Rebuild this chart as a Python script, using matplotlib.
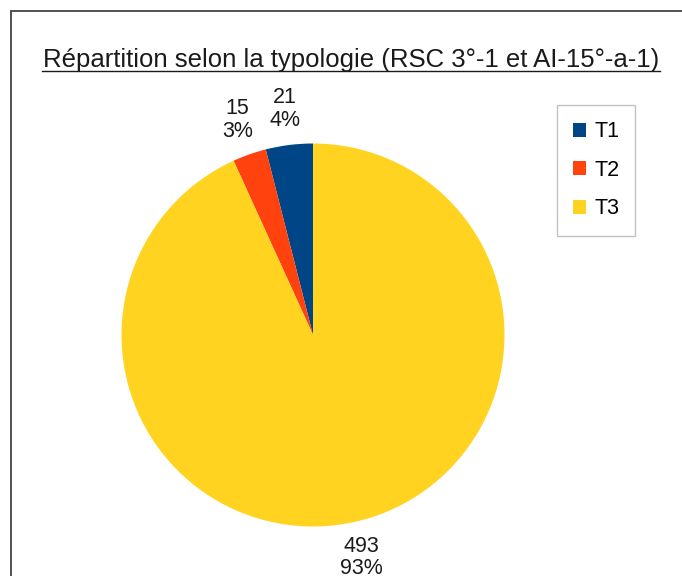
import numpy as np
import matplotlib
matplotlib.use("Agg")
import matplotlib.pyplot as plt
from matplotlib.patches import Rectangle

# Chart data
categories = ["T1", "T2", "T3"]
counts = [21, 15, 493]
percent_labels = ["4%", "3%", "93%"]
colors = ["#004586", "#ff420e", "#ffd320"]

TITLE = "Répartition selon la typologie (RSC 3°-1 et AI-15°-a-1)"

W, H = 682, 576
plt.rcParams["font.family"] = ["Liberation Sans", "DejaVu Sans"]

fig = plt.figure(figsize=(W / 100, H / 100), dpi=100)

# outer chart frame (cropped on the right and bottom)
fig.patches.append(Rectangle((10.5 / W, -0.1), 2.0, 1.1 - 10.5 / H,
                             transform=fig.transFigure, fill=False,
                             edgecolor="#333333", linewidth=1.2))

# pie axes: centre (313, 335) px, radius ~191.5 px
cx, cy, r = 313, 335, 191.5
ax = fig.add_axes([(cx - r) / W, (H - cy - r) / H, 2 * r / W, 2 * r / H])
wedges, _ = ax.pie(counts, colors=colors, startangle=90, counterclock=True,
                   radius=1.0, wedgeprops=dict(linewidth=0))
ax.set_xlim(-1, 1)
ax.set_ylim(-1, 1)
ax.set_aspect("equal")
ax.axis("off")

# value / percent labels outside each slice
for w, n, pct in zip(wedges, counts, percent_labels):
    ang = np.deg2rad((w.theta1 + w.theta2) / 2)
    ax.text(1.19 * np.cos(ang), 1.19 * np.sin(ang), f"{n}\n{pct}",
            ha="center", va="center", fontsize=15.5, color="#1a1a1a",
            linespacing=1.1, clip_on=False)

fig.text(351 / W, 1 - 67 / H, TITLE, ha="center", va="baseline",
         fontsize=18.5, color="#1a1a1a")
# underline
fig.add_artist(plt.Line2D([42 / W, 660 / W], [1 - 70.5 / H, 1 - 70.5 / H],
                          transform=fig.transFigure, color="#1a1a1a",
                          linewidth=1))

leg = fig.legend(wedges, categories, loc="upper left",
                 bbox_to_anchor=(557 / W, 1 - 105 / H), frameon=True,
                 fancybox=False, fontsize=15.5, handlelength=0.62,
                 handleheight=0.62, handletextpad=0.35, labelspacing=0.82,
                 borderpad=0.75, borderaxespad=0)
leg.get_frame().set_edgecolor("#b3b3b3")
leg.get_frame().set_linewidth(1)

fig.savefig("out.png", dpi=100)
